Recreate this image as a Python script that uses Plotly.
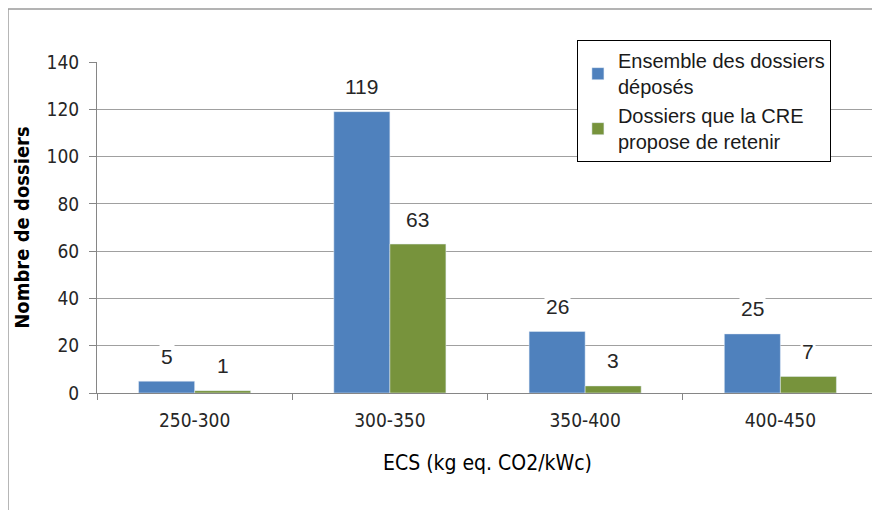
import plotly.graph_objects as go

categories = ["250-300", "300-350", "350-400", "400-450"]
series_names = ["Ensemble des dossiers<br>déposés", "Dossiers que la CRE<br>propose de retenir"]
deposes = [5, 119, 26, 25]
retenus = [1, 63, 3, 7]
y_ticks = [0, 20, 40, 60, 80, 100, 120, 140]

BLUE = "#4F81BD"
GREEN = "#77933C"
NARROW = "DejaVu Sans Condensed, Liberation Sans Narrow, sans-serif"
SANS = "Liberation Sans, Arial, sans-serif"

fig = go.Figure()
fig.add_trace(go.Bar(x=categories, y=deposes, name=series_names[0], marker_color=BLUE))
fig.add_trace(go.Bar(x=categories, y=retenus, name=series_names[1], marker_color=GREEN))

annotations = []
for vals, shift in ((deposes, -28), (retenus, 28)):
    for c, v in zip(categories, vals):
        annotations.append(dict(
            x=c, y=v, xref="x", yref="y", text=str(v), showarrow=False,
            xshift=shift, yshift=25, yanchor="middle",
            font=dict(family=SANS, size=21, color="#262626"),
            bgcolor="white", borderpad=1,
        ))

fig.update_layout(
    width=880, height=510,
    margin=dict(l=89, r=10, t=54, b=125),
    paper_bgcolor="white", plot_bgcolor="white",
    barmode="group", bargap=0.426, bargroupgap=0,
    showlegend=True,
    legend=dict(
        x=0.6145, y=1.066, xanchor="left", yanchor="top",
        bgcolor="white", bordercolor="black", borderwidth=1,
        font=dict(family=SANS, size=20, color="#1a1a1a"),
        tracegroupgap=0, itemwidth=30,
    ),
    annotations=annotations,
    shapes=[dict(type="rect", xref="paper", yref="paper",
                 x0=-0.114, x1=1.05, y0=-0.6, y1=1.16,
                 line=dict(color="#9a9a9a", width=1.5), layer="below")],
    xaxis=dict(
        type="category", showline=True, linecolor="#868686", linewidth=1,
        ticks="outside", tickson="boundaries", ticklen=6, tickcolor="#868686",
        tickfont=dict(family=NARROW, size=19, color="#262626"),
        ticklabelstandoff=10,
        title=dict(text="ECS (kg eq. CO2/kWc)", standoff=25,
                   font=dict(family=NARROW, size=21, color="#000000")),
        showgrid=False,
    ),
    yaxis=dict(
        range=[0, 140], tickvals=y_ticks,
        showline=True, linecolor="#868686", linewidth=1,
        ticks="outside", ticklen=7, tickcolor="#868686",
        tickfont=dict(family=NARROW, size=19, color="#262626"),
        ticklabelstandoff=6,
        showgrid=True, gridcolor="#a0a0a0", gridwidth=1,
        zeroline=False,
        title=dict(text="<b>Nombre de dossiers</b>", standoff=11,
                   font=dict(family=NARROW, size=20, color="#000000")),
    ),
)

fig.write_html("out.html")
